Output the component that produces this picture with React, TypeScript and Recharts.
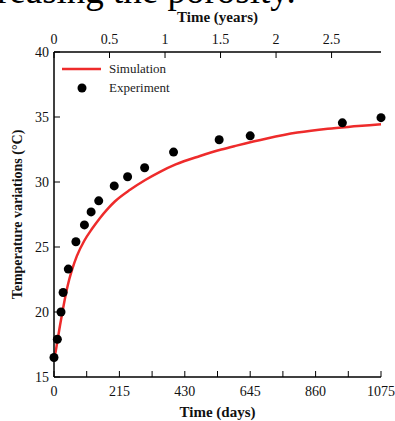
import React from "react";
import {
  ComposedChart,
  Line,
  Scatter,
  XAxis,
  YAxis,
  Legend,
} from "recharts";

// simulated temperature (°C) against time in days
const simDays = [0, 5, 10, 15, 20, 30, 40, 50, 60, 75, 100, 125, 150, 175, 200, 250, 300, 350, 400, 480, 550, 600, 700, 800, 900, 1000, 1075];
const simTemp = [16.5, 16.9, 17.6, 18.3, 19.0, 20.3, 21.5, 22.5, 23.3, 24.3, 25.5, 26.4, 27.2, 27.9, 28.5, 29.4, 30.15, 30.8, 31.35, 32.0, 32.5, 32.8, 33.35, 33.8, 34.1, 34.3, 34.45];

// measured points
const expDays = [0, 11, 23, 30, 47, 72, 100, 122, 147, 198, 242, 298, 393, 543, 645, 948, 1075];
const expTemp = [16.5, 17.9, 20.0, 21.5, 23.3, 25.4, 26.7, 27.7, 28.55, 29.7, 30.4, 31.1, 32.3, 33.25, 33.55, 34.55, 34.95];

const dayTicks = [0, 107.5, 215, 322.5, 430, 537.5, 645, 752.5, 860, 967.5, 1075];
const yearTicks = [0, 0.5, 1, 1.5, 2, 2.5];
const tempTicks = [15, 20, 25, 30, 35, 40];

const simData = simDays.map((d, i) => ({ day: d, temp: simTemp[i] }));
const expData = expDays.map((d, i) => ({ day: d, temp: expTemp[i] }));
// same points in years, only so the top axis gets a scale
const yearData = expDays.map((d, i) => ({ year: d / 365, temp: expTemp[i] }));

const font = "'Liberation Serif', 'Times New Roman', serif";
const RED = "#ee2b2b";

function LegendBox() {
  return (
    <div style={{ fontFamily: font, fontSize: 13, color: "#222", lineHeight: "19px" }}>
      <div style={{ display: "flex", alignItems: "center" }}>
        <svg width={47} height={10}>
          <line x1={0} y1={5} x2={39} y2={5} stroke={RED} strokeWidth={2.5} />
        </svg>
        <span>Simulation</span>
      </div>
      <div style={{ display: "flex", alignItems: "center" }}>
        <svg width={47} height={10}>
          <circle cx={20} cy={5} r={4.5} fill="#000" />
        </svg>
        <span>Experiment</span>
      </div>
    </div>
  );
}

export default function App() {
  return (
    <div style={{ position: "relative", width: 395, height: 421, background: "#fff" }}>
      <style>{"body{margin:0;overflow:hidden}"}</style>
      <div
        style={{
          position: "absolute",
          left: -3,
          top: -31,
          fontFamily: font,
          fontSize: 37,
          lineHeight: "normal",
          whiteSpace: "nowrap",
          color: "#000",
        }}
      >
        reasing the porosity.
      </div>
      <ComposedChart
        width={395}
        height={421}
        margin={{ top: 0, right: 14, bottom: 0, left: 0 }}
        style={{ fontFamily: font }}
      >
        <XAxis
          xAxisId="days"
          dataKey="day"
          type="number"
          domain={[0, 1075]}
          ticks={dayTicks}
          interval={0}
          height={44}
          tickSize={-6}
          tickMargin={15}
          tickFormatter={(v) => (v % 215 === 0 ? String(v) : "")}
          tick={{ fill: "#111", fontSize: 14 }}
          stroke="#000"
          axisLine={{ stroke: "#000", strokeWidth: 1.5 }}
          label={{ value: "Time (days)", position: "insideBottom", offset: 4, fill: "#111", fontSize: 15, fontWeight: "bold" }}
        />
        <XAxis
          xAxisId="years"
          dataKey="year"
          orientation="top"
          type="number"
          domain={[0, 1075 / 365]}
          allowDataOverflow
          ticks={yearTicks}
          interval={0}
          height={52}
          tickSize={-6}
          tickMargin={14}
          tick={{ fill: "#111", fontSize: 14 }}
          stroke="#000"
          axisLine={{ stroke: "#000", strokeWidth: 1.5 }}
          label={{ value: "Time (years)", position: "insideTop", offset: 11, fill: "#111", fontSize: 15, fontWeight: "bold" }}
        />
        <YAxis
          yAxisId="left"
          type="number"
          domain={[15, 40]}
          ticks={tempTicks}
          interval={0}
          width={54}
          tickSize={-6}
          tickMargin={11}
          tick={{ fill: "#111", fontSize: 14 }}
          stroke="#000"
          axisLine={{ stroke: "#000", strokeWidth: 1.5 }}
          label={{
            value: "Temperature variations (°C)",
            angle: -90,
            position: "insideLeft",
            offset: 17,
            style: { textAnchor: "middle" },
            fill: "#111",
            fontSize: 14,
            fontWeight: "bold",
          }}
        />
        <YAxis
          yAxisId="right"
          orientation="right"
          type="number"
          domain={[15, 40]}
          ticks={tempTicks}
          interval={0}
          width={0}
          tickSize={-6}
          tick={false}
          stroke="#000"
          axisLine={{ stroke: "#000", strokeWidth: 1.5 }}
        />
        <Legend
          layout="vertical"
          align="center"
          verticalAlign="middle"
          wrapperStyle={{ top: 59, left: 62, width: 120 }}
          content={() => <LegendBox />}
        />
        <Line
          xAxisId="years"
          yAxisId="right"
          data={yearData}
          dataKey="temp"
          stroke="none"
          dot={false}
          activeDot={false}
          legendType="none"
          isAnimationActive={false}
        />
        <Line
          xAxisId="days"
          yAxisId="left"
          data={simData}
          dataKey="temp"
          type="monotone"
          stroke={RED}
          strokeWidth={2.5}
          dot={false}
          isAnimationActive={false}
          name="Simulation"
        />
        <Scatter
          xAxisId="days"
          yAxisId="left"
          data={expData}
          dataKey="temp"
          fill="#000"
          shape={(p: any) => <circle cx={p.cx} cy={p.cy} r={4.5} fill="#000" />}
          isAnimationActive={false}
          name="Experiment"
        />
      </ComposedChart>
    </div>
  );
}
